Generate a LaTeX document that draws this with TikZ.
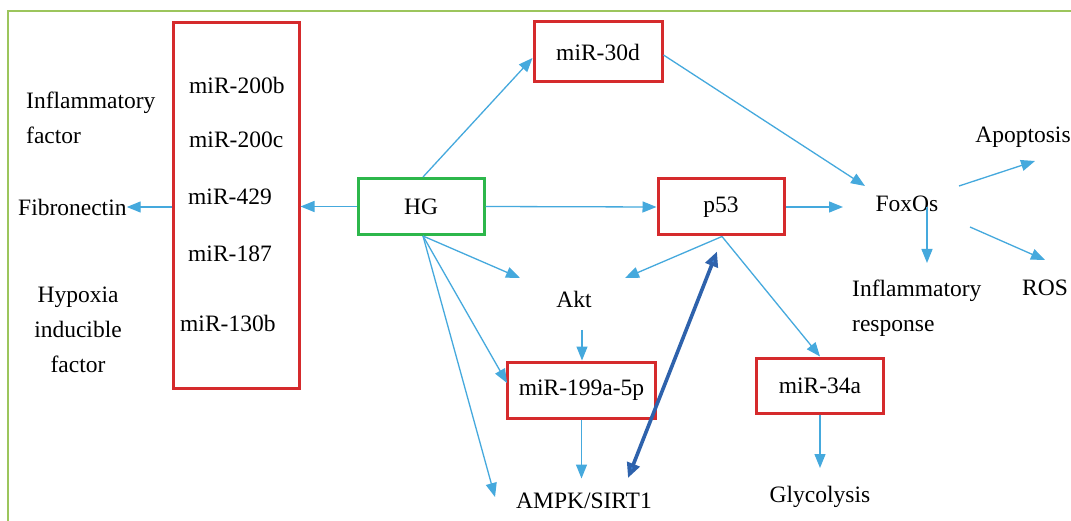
\documentclass[tikz,border=0pt]{standalone}
\usepackage{fontspec}
\setmainfont{Liberation Serif}
\newfontfamily\diafont{Liberation Serif}
\usetikzlibrary{arrows.meta,calc}
\definecolor{arrowblue}{HTML}{45A9DD}
\definecolor{boxred}{HTML}{D52A2C}
\definecolor{boxgreen}{HTML}{2DB74B}
\definecolor{framegreen}{HTML}{9CC55C}
\definecolor{darkblue}{HTML}{2E62AC}
\definecolor{headblue}{HTML}{3A7FD0}
\tikzset{
  redbox/.style={draw=boxred,line width=3pt,inner sep=0pt},
  greenbox/.style={draw=boxgreen,line width=3pt,inner sep=0pt},
  lbl/.style={inner sep=0pt,font=\diafont\fontsize{23.5}{35}\selectfont},
  conn/.style={draw=arrowblue,line width=1.3pt,-{Triangle[length=14pt,width=11pt]}},
  biconn/.style={draw=darkblue,line width=3.6pt,{Triangle[length=15pt,width=13pt,fill=headblue]}-{Triangle[length=15pt,width=13pt,fill=headblue]}}
}
\begin{document}
\begin{tikzpicture}[x=1pt,y=-1pt]
\useasboundingbox (0,0) rectangle (1071,521);
\fill[white] (0,0) rectangle (1071,521);
% frame
\draw[framegreen,line width=2pt] (8,521) -- (8,11) -- (1071,11);

% boxes
\node[redbox,minimum width=126pt,minimum height=365pt] (mirbox) at (236,205.5) {};
\node[greenbox,minimum width=126pt,minimum height=56pt,lbl] (HG) at (421,206.5) {HG};
\node[redbox,minimum width=128pt,minimum height=60pt,lbl] (m30d) at (598,52) {miR-30d};
\node[redbox,minimum width=126pt,minimum height=56pt,lbl] (p53) at (721,207) {p53};
\node[redbox,minimum width=148pt,minimum height=56pt,lbl] (m199) at (581.5,390) {miR-199a-5p};
\node[redbox,minimum width=127pt,minimum height=55pt,lbl] (m34a) at (820,385.5) {miR-34a};

% texts inside big box
\node[lbl,anchor=west] (t200b) at (189,85) {miR-200b};
\node[lbl,anchor=west] (t200c) at (189,140) {miR-200c};
\node[lbl,anchor=west] (t429) at (188,197) {miR-429};
\node[lbl,anchor=west] (t187) at (188,254) {miR-187};
\node[lbl,anchor=west] (t130b) at (180,323) {miR-130b};

% left texts
\node[lbl,anchor=west,align=left] (infl) at (26,118) {Inflammatory\\factor};
\node[lbl,anchor=west] (fib) at (18,207) {Fibronectin};
\node[lbl,align=center] (hyp) at (78,330) {Hypoxia\\inducible\\factor};

% other texts
\node[lbl] (akt) at (574,299) {Akt};
\node[lbl] (ampk) at (584,501) {AMPK/SIRT1};
\node[lbl] (gly) at (820,497) {Glycolysis};
\node[lbl] (fox) at (907,204) {FoxOs};
\node[lbl] (apo) at (1023,137) {Apoptosis};
\node[lbl] (ros) at (1045,288) {ROS};
\node[lbl,anchor=west,align=left] (infr) at (852,308) {Inflammatory\\response};

% connectors
\draw[conn] (mirbox.west |- fib) -- (fib.east);
\draw[conn] (HG.west) -- (mirbox.east |- HG.west);
\draw[conn] ($(HG.north)+(2,0)$) -- ($(m30d.west)+(0,6)$);
\draw[conn] (HG.east) -- (p53.west);
\draw[conn] (p53.east) -- ($(fox.center)+(-64,3)$);
\draw[conn] ($(m30d.east)+(0,3)$) -- ($(fox.center)+(-42,-18)$);
\draw[conn] ($(fox.center)+(52,-18)$) -- ($(apo.center)+(12,24)$);
\draw[conn] ($(fox.center)+(63,23)$) -- ($(ros.center)+(0,-28)$);
\draw[conn] ($(fox.center)+(20,3)$) -- ($(fox.center)+(20,59)$);
\draw[conn] ($(p53.south)+(1,0)$) -- ($(akt.center)+(51,-21)$);
\draw[conn] ($(HG.south)+(2,0)$) -- ($(akt.center)+(-54,-21)$);
\draw[conn] ($(HG.south)+(2,0)$) -- ($(m199.west)+(1,-7)$);
\draw[conn] ($(HG.south)+(2,0)$) -- ($(ampk.center)+(-89,-4)$);
\draw[conn] ($(akt.center)+(8,31)$) -- ($(m199.north)+(0.5,0)$);
\draw[conn] (m199.south) -- ($(m199.south)+(0,59)$);
\draw[conn] ($(p53.south)+(1,0)$) -- (m34a.north);
\draw[conn] (m34a.south) -- ($(gly.center)+(0,-29)$);
\draw[biconn] ($(ampk.center)+(44,-23)$) -- ($(p53.south)+(-4,15)$);
\end{tikzpicture}
\end{document}
